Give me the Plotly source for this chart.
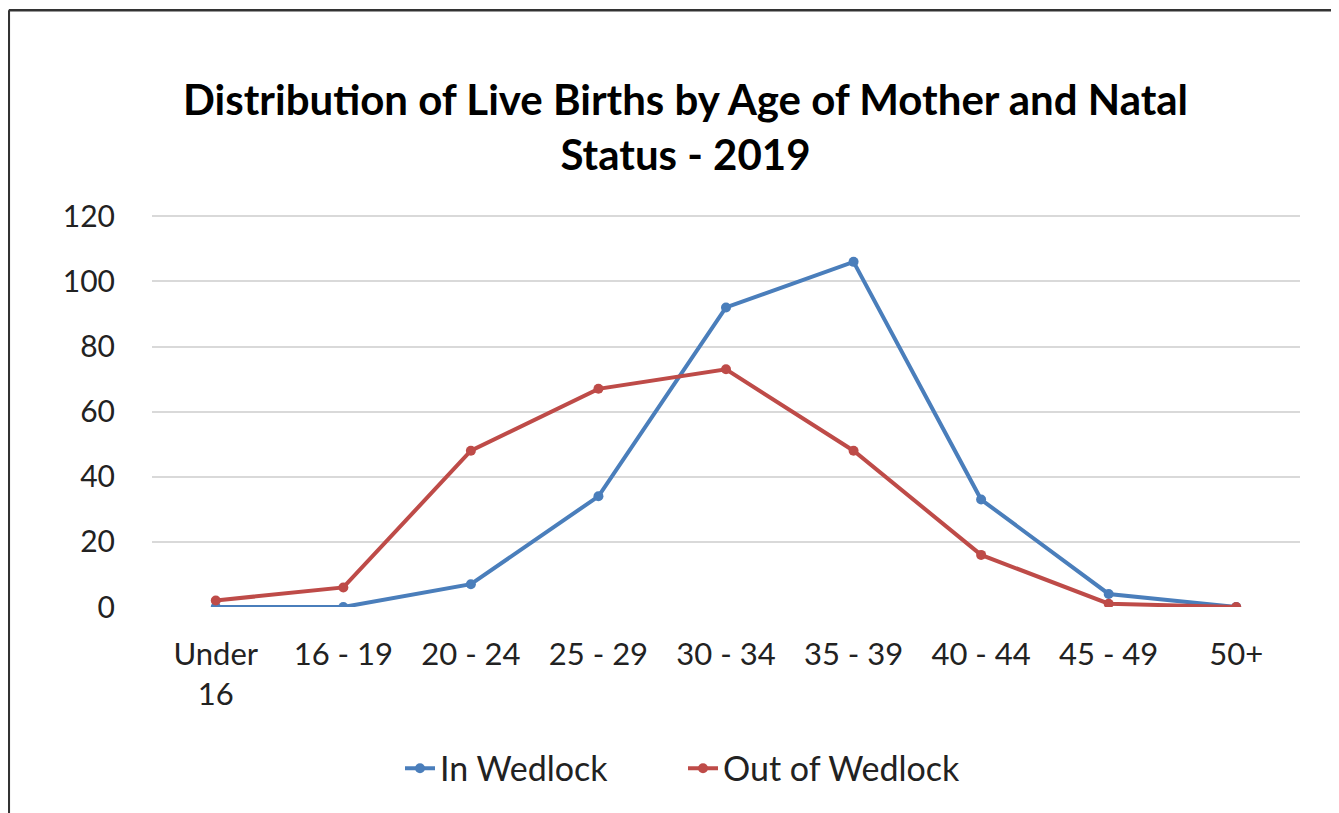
import plotly.graph_objects as go

categories = ["Under<br>16", "16 - 19", "20 - 24", "25 - 29", "30 - 34",
              "35 - 39", "40 - 44", "45 - 49", "50+"]
in_wedlock = [0, 0, 7, 34, 92, 106, 33, 4, 0]
out_of_wedlock = [2, 6, 48, 67, 73, 48, 16, 1, 0]
y_ticks = [0, 20, 40, 60, 80, 100, 120]

title_text = "Distribution of Live Births by Age of Mother and Natal<br>Status - 2019"

FONT = "Lato"

fig = go.Figure()
fig.add_trace(go.Scatter(
    x=categories, y=in_wedlock, name="In Wedlock", mode="lines+markers",
    line=dict(color="#4A7EBB", width=4),
    marker=dict(symbol="circle", size=10, color="#4A7EBB"),
    legend="legend",
))
fig.add_trace(go.Scatter(
    x=categories, y=out_of_wedlock, name="Out of Wedlock", mode="lines+markers",
    line=dict(color="#BE4B48", width=4),
    marker=dict(symbol="circle", size=10, color="#BE4B48"),
    legend="legend2",
))

W, H = 1331, 805
L, R, T, B = 144, 39, 205.45, 206.3
PW = W - L - R
PB = H - B           # pixel y of paper 0
PH = PB - T


def px(xp):
    return (xp - L) / PW


def py(yp):
    return (PB - yp) / PH


legend_common = dict(orientation="h", xanchor="left", y=py(760),
                     yanchor="middle", font=dict(size=34, family=FONT,
                                                 color="#222222"),
                     bgcolor="rgba(0,0,0,0)")

fig.update_layout(
    width=W, height=H,
    margin=dict(l=L, r=R, t=T, b=B),
    paper_bgcolor="white", plot_bgcolor="white",
    font=dict(family=FONT, size=30, color="#222222"),
    showlegend=True,
    legend=dict(x=px(392), **legend_common),
    legend2=dict(x=px(675), **legend_common),
    xaxis=dict(type="category", range=[-0.5, 8.5], showgrid=False,
               showline=False, ticks="", zeroline=False,
               tickfont=dict(size=31, family=FONT, color="#222222"),
               ticklabelstandoff=26),
    yaxis=dict(range=[0, 121], tickvals=y_ticks, showgrid=True,
               gridcolor="#D9D9D9", gridwidth=1.5, zeroline=False,
               showline=False, ticks="",
               tickfont=dict(size=30, family=FONT, color="#222222"),
               ticklabelstandoff=36),
    annotations=[dict(
        text="<b>" + title_text + "</b>", xref="paper", yref="paper",
        x=px(677.5), y=py(119), xanchor="center", yanchor="middle",
        showarrow=False, align="center",
        font=dict(size=42, family=FONT, color="#000000"),
    )],
    shapes=[
        dict(type="line", xref="paper", yref="paper",
             x0=px(0.8), x1=px(0.8), y0=py(3), y1=py(810),
             line=dict(color="#333333", width=2.5)),
        dict(type="line", xref="paper", yref="paper",
             x0=px(0.8), x1=px(1340), y0=py(3), y1=py(3),
             line=dict(color="#333333", width=2.5)),
    ],
)

fig.write_html("out.html")
